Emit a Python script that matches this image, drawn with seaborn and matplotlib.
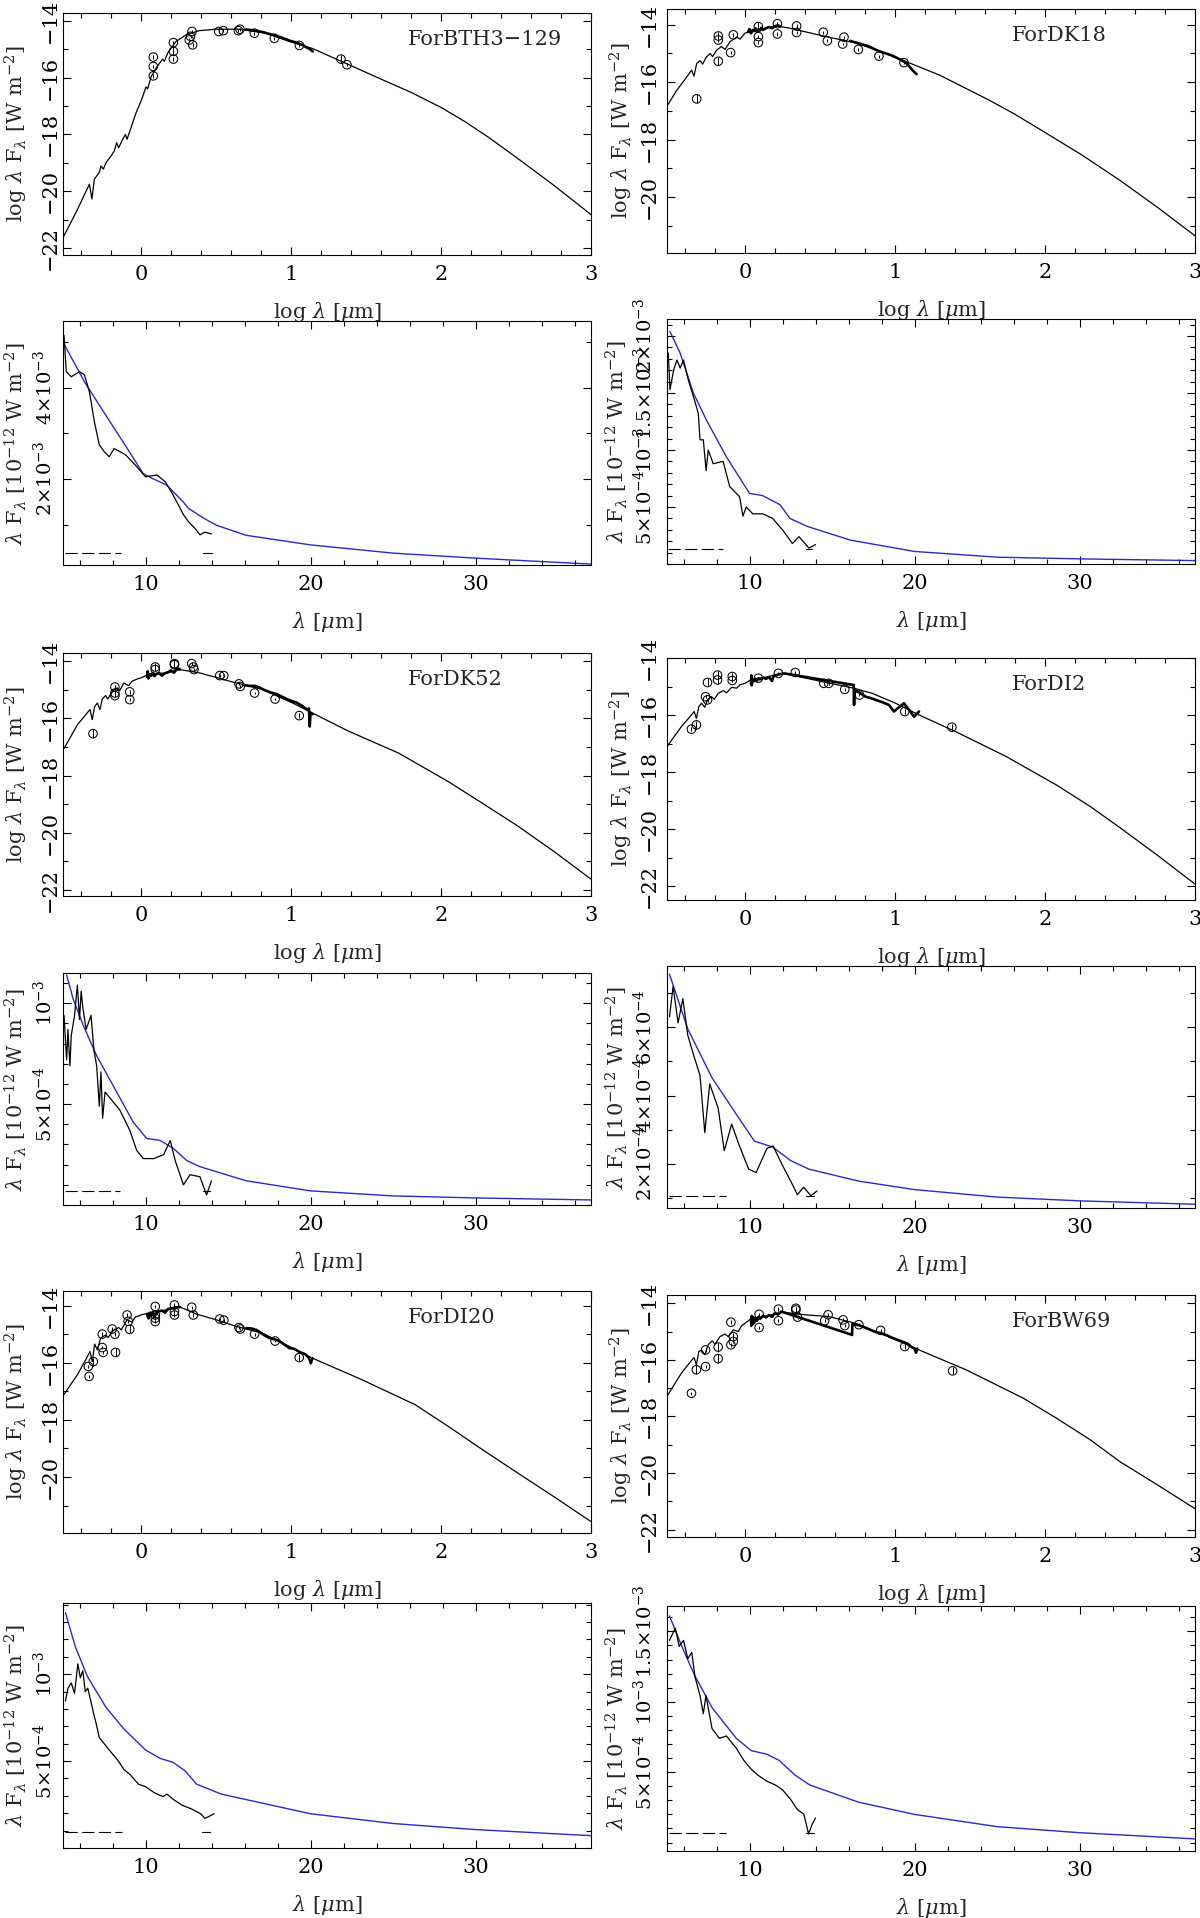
import numpy as np
import seaborn as sns
from matplotlib import pyplot as plt
from matplotlib.ticker import MultipleLocator

# ---------------- SED panels (log lambda [um], log lambda F_lambda [W m^-2]) ----------------
BTH3_MODEL_X = [-0.522, -0.433, -0.344, -0.327, -0.311, -0.278, -0.267, -0.251, -0.233, -0.2, -0.178, -0.162, -0.149,
                -0.122, -0.104, -0.093, -0.067, -0.033, 0.0, 0.016, 0.033, 0.044, 0.067, 0.1, 0.144, 0.156, 0.178,
                0.233, 0.3, 0.389, 0.5, 0.656, 0.833, 0.989, 1.144, 1.344, 1.611, 1.8, 2.0, 2.16, 2.322, 2.5, 2.75,
                3.0]
BTH3_MODEL_Y = [-21.65, -20.74, -19.75, -20.27, -19.57, -19.34, -19.11, -19.22, -18.99, -18.76, -18.58, -18.29, -18.47,
                -18.17, -18.0, -18.17, -17.77, -17.24, -16.83, -16.60, -16.33, -16.40, -15.98, -15.67, -15.35, -15.43,
                -15.14, -14.73, -14.50, -14.35, -14.30, -14.30, -14.44, -14.73, -14.98, -15.45, -16.08, -16.52,
                -17.05, -17.55, -18.12, -18.8, -19.78, -20.82]
BTH3_IRS_X = [0.70, 0.73, 0.76, 0.79, 0.82, 0.85, 0.88, 0.91, 0.94, 0.97, 1.0, 1.03, 1.06, 1.08, 1.1, 1.12, 1.135, 1.145]
BTH3_IRS_Y = [-14.31, -14.33, -14.35, -14.38, -14.41, -14.46, -14.5, -14.55, -14.6, -14.66, -14.72, -14.76, -14.82,
              -14.86, -14.93, -14.98, -15.04, -15.08]
BTH3_PHOT_X = [0.082, 0.082, 0.082, 0.216, 0.216, 0.216, 0.322, 0.33, 0.34, 0.344, 0.518, 0.549, 0.649, 0.66, 0.756,
               0.889, 1.056, 1.333, 1.373]
BTH3_PHOT_Y = [-15.28, -15.61, -15.94, -14.77, -15.08, -15.35, -14.68, -14.55, -14.38, -14.85, -14.38, -14.35, -14.35,
               -14.30, -14.44, -14.62, -14.87, -15.35, -15.55]
BTH3_PHOT_ERR = [0.06, 0.06, 0.06, 0.06, 0.14, 0.06, 0.06, 0.06, 0.06, 0.06, 0.05, 0.05, 0.05, 0.05, 0.05, 0.05, 0.05,
                 0.14, 0.06]

DK18_MODEL_X = [-0.522, -0.456, -0.389, -0.356, -0.34, -0.322, -0.3, -0.282, -0.26, -0.233, -0.216, -0.189, -0.156,
                -0.133, -0.1, -0.056, -0.033, 0.0, 0.078, 0.211, 0.3, 0.522, 0.744, 0.922, 1.078, 1.3, 1.633, 1.8, 2.0,
                2.25, 2.5, 2.75, 3.0]
DK18_MODEL_Y = [-16.85, -16.29, -15.82, -15.58, -15.79, -15.35, -15.25, -15.37, -15.14, -15.0, -15.11, -14.88, -14.76,
                -14.86, -14.59, -14.43, -14.50, -14.29, -14.18, -14.04, -14.12, -14.39, -14.64, -14.97, -15.29, -15.76,
                -16.64, -17.12, -17.75, -18.55, -19.42, -20.36, -21.35]
DK18_NIR_X = [0.02, 0.03, 0.04, 0.05, 0.06, 0.07, 0.08, 0.09, 0.1, 0.11, 0.12, 0.14, 0.16, 0.18, 0.2, 0.22, 0.235]
DK18_NIR_Y = [-14.25, -14.15, -14.3, -14.18, -14.22, -14.12, -14.25, -14.15, -14.2, -14.1, -14.18, -14.12, -14.08,
              -14.12, -14.05, -14.02, -14.06]
DK18_IRS_X = [0.70, 0.74, 0.78, 0.82, 0.86, 0.9, 0.94, 0.97, 1.0, 1.03, 1.06, 1.08, 1.1, 1.12, 1.144]
DK18_IRS_Y = [-14.56, -14.62, -14.68, -14.74, -14.84, -14.93, -15.0, -15.05, -15.12, -15.2, -15.28, -15.35, -15.48,
              -15.6, -15.72]
DK18_PHOT_X = [-0.322, -0.178, -0.178, -0.178, -0.096, -0.078, 0.089, 0.089, 0.089, 0.216, 0.216, 0.344, 0.344, 0.522,
               0.549, 0.651, 0.66, 0.756, 0.893, 1.06]
DK18_PHOT_Y = [-16.58, -14.39, -14.53, -15.27, -14.97, -14.35, -14.06, -14.41, -14.62, -13.96, -14.32, -14.04, -14.27,
               -14.26, -14.56, -14.67, -14.43, -14.86, -15.09, -15.32]
DK18_PHOT_ERR = [0.16, 0.14, 0.06, 0.14, 0.06, 0.06, 0.14, 0.06, 0.06, 0.06, 0.06, 0.06, 0.06, 0.05, 0.05, 0.05, 0.05,
                 0.05, 0.05, 0.05]

DK52_MODEL_X = [-0.512, -0.424, -0.369, -0.34, -0.325, -0.309, -0.291, -0.274, -0.258, -0.236, -0.221, -0.192, -0.159,
                -0.141, -0.115, -0.082, -0.06, -0.026, 0.0, 0.062, 0.172, 0.26, 0.393, 0.636, 0.812, 1.011, 1.143,
                1.386, 1.717, 2.049, 2.25, 2.5, 2.75, 3.0]
DK52_MODEL_Y = [-17.04, -16.22, -15.87, -15.69, -16.04, -15.58, -15.46, -15.69, -15.32, -15.20, -15.32, -15.05, -14.93,
                -15.02, -14.76, -14.85, -14.70, -14.62, -14.58, -14.43, -14.41, -14.29, -14.41, -14.76, -14.99, -15.46,
                -15.81, -16.45, -17.21, -18.21, -18.88, -19.72, -20.64, -21.62]
DK52_NIR_X = [0.04, 0.045, 0.05, 0.06, 0.07, 0.08, 0.09, 0.1, 0.12, 0.14, 0.16, 0.18, 0.2, 0.22, 0.24, 0.26]
DK52_NIR_Y = [-14.55, -14.35, -14.6, -14.45, -14.5, -14.4, -14.52, -14.45, -14.42, -14.5, -14.42, -14.38, -14.32,
              -14.4, -14.25, -14.28]
DK52_IRS_X = [0.68, 0.72, 0.76, 0.79, 0.83, 0.87, 0.9, 0.94, 0.98, 1.01, 1.04, 1.07, 1.09, 1.11, 1.12, 1.125, 1.13,
              1.145]
DK52_IRS_Y = [-14.82, -14.86, -14.86, -14.92, -15.02, -15.1, -15.14, -15.24, -15.34, -15.4, -15.45, -15.55, -15.62,
              -15.7, -15.65, -16.28, -15.8, -15.85]
DK52_PHOT_X = [-0.32, -0.174, -0.174, -0.174, -0.075, -0.075, 0.095, 0.095, 0.223, 0.223, 0.338, 0.349, 0.353, 0.525,
               0.552, 0.653, 0.662, 0.757, 0.894, 1.055]
DK52_PHOT_Y = [-16.53, -14.90, -15.11, -15.20, -15.07, -15.34, -14.20, -14.29, -14.08, -14.12, -14.08, -14.20, -14.29,
               -14.50, -14.50, -14.79, -14.88, -15.11, -15.32, -15.90]
DK52_PHOT_ERR = [0.15, 0.06, 0.14, 0.06, 0.06, 0.06, 0.14, 0.06, 0.14, 0.06, 0.05, 0.05, 0.05, 0.05, 0.05, 0.05, 0.05,
                 0.05, 0.05, 0.1]

DI2_MODEL_X = [-0.52, -0.424, -0.357, -0.339, -0.324, -0.308, -0.29, -0.268, -0.25, -0.223, -0.205, -0.179, -0.145,
               -0.123, -0.089, -0.056, -0.033, 0.0, 0.045, 0.134, 0.223, 0.257, 0.357, 0.513, 0.725, 0.848, 1.004,
               1.16, 1.406, 1.741, 2.076, 2.3, 2.5, 2.75, 3.0]
DI2_MODEL_Y = [-17.10, -16.40, -15.99, -15.87, -16.11, -15.70, -15.58, -15.72, -15.46, -15.35, -15.44, -15.23, -15.14,
               -15.21, -15.02, -15.05, -14.93, -14.88, -14.74, -14.67, -14.55, -14.53, -14.64, -14.82, -15.05, -15.23,
               -15.58, -15.99, -16.58, -17.45, -18.45, -19.2, -19.95, -20.92, -21.93]
DI2_SPEC_X = [0.04, 0.042, 0.045, 0.05, 0.06, 0.07, 0.08, 0.09, 0.1, 0.12, 0.14, 0.16, 0.18, 0.19, 0.21, 0.23, 0.26,
              0.725, 0.727, 0.73, 0.763, 0.804, 0.84, 0.87, 0.92, 0.96, 0.993, 1.02, 1.06, 1.094, 1.127, 1.16]
DI2_SPEC_Y = [-14.9, -14.6, -14.95, -14.75, -14.8, -14.72, -14.78, -14.7, -14.74, -14.68, -14.72, -14.66, -14.8, -14.62,
              -14.6, -14.56, -14.53, -14.94, -15.64, -15.1, -15.21, -15.35, -15.4, -15.46, -15.55, -15.64, -15.87,
              -15.75, -15.58, -15.81, -16.05, -15.87]
DI2_PHOT_X = [-0.357, -0.324, -0.263, -0.25, -0.25, -0.183, -0.183, -0.085, -0.085, 0.089, 0.223, 0.335, 0.525, 0.558,
              0.665, 0.763, 1.065, 1.379]
DI2_PHOT_Y = [-16.49, -16.34, -15.35, -15.46, -14.85, -14.59, -14.76, -14.64, -14.78, -14.70, -14.53, -14.50, -14.88,
              -14.88, -15.09, -15.29, -15.87, -16.42]
DI2_PHOT_ERR = [0.06, 0.14, 0.06, 0.06, 0.14, 0.14, 0.14, 0.14, 0.06, 0.05, 0.05, 0.05, 0.05, 0.05, 0.05, 0.05, 0.1,
                0.1]

DI20_MODEL_X = [-0.512, -0.424, -0.369, -0.34, -0.325, -0.309, -0.291, -0.269, -0.236, -0.221, -0.181, -0.148, -0.132,
                -0.093, -0.06, -0.038, 0.0, 0.084, 0.172, 0.26, 0.371, 0.503, 0.636, 0.812, 0.989, 1.143, 1.475, 1.828,
                2.049, 2.25, 2.5, 2.75, 3.0]
DI20_MODEL_Y = [-17.10, -16.42, -15.90, -15.61, -15.96, -15.35, -15.55, -15.14, -15.03, -15.12, -14.85, -14.77, -14.85,
                -14.50, -14.58, -14.40, -14.33, -14.21, -14.15, -14.05, -14.30, -14.50, -14.73, -14.97, -15.43, -15.84,
                -16.60, -17.47, -18.23, -18.95, -19.82, -20.68, -21.56]
DI20_NIR_X = [0.04, 0.05, 0.06, 0.07, 0.08, 0.09, 0.1, 0.12, 0.14, 0.16, 0.18, 0.2, 0.22, 0.24, 0.26]
DI20_NIR_Y = [-14.3, -14.45, -14.25, -14.35, -14.22, -14.4, -14.28, -14.2, -14.18, -14.25, -14.12, -14.1, -14.08,
              -14.06, -14.05]
DI20_IRS_X = [0.702, 0.735, 0.768, 0.79, 0.812, 0.835, 0.857, 0.89, 0.923, 0.955, 0.989, 1.01, 1.033, 1.055, 1.077,
              1.095, 1.11, 1.122, 1.132, 1.143]
DI20_IRS_Y = [-14.79, -14.8, -14.85, -14.92, -15.0, -15.08, -15.14, -15.18, -15.24, -15.36, -15.49, -15.5, -15.55,
              -15.62, -15.67, -15.7, -15.78, -15.85, -16.02, -15.84]
DI20_PHOT_X = [-0.351, -0.346, -0.318, -0.258, -0.258, -0.252, -0.192, -0.174, -0.17, -0.093, -0.075, -0.085, 0.095,
               0.095, 0.095, 0.095, 0.223, 0.223, 0.223, 0.338, 0.349, 0.525, 0.552, 0.653, 0.662, 0.757, 0.894, 1.055]
DI20_PHOT_Y = [-16.13, -16.48, -15.96, -15.0, -15.47, -15.64, -14.82, -15.0, -15.64, -14.33, -14.83, -14.55, -14.03,
               -14.33, -14.44, -14.56, -13.98, -14.21, -14.33, -14.06, -14.33, -14.47, -14.51, -14.77, -14.82, -15.0,
               -15.24, -15.82]
DI20_PHOT_ERR = [0.06, 0.06, 0.14, 0.06, 0.06, 0.06, 0.06, 0.06, 0.14, 0.06, 0.14, 0.06, 0.06, 0.06, 0.06, 0.06, 0.06,
                 0.06, 0.06, 0.06, 0.06, 0.05, 0.05, 0.05, 0.05, 0.05, 0.05, 0.12]

BW69_MODEL_X = [-0.52, -0.424, -0.353, -0.339, -0.324, -0.308, -0.29, -0.268, -0.246, -0.219, -0.2, -0.167, -0.134,
                -0.112, -0.078, -0.045, -0.022, 0.0, 0.045, 0.134, 0.223, 0.257, 0.402, 0.558, 0.737, 0.871, 1.004,
                1.16, 1.473, 1.853, 2.076, 2.3, 2.5, 2.75, 3.0]
BW69_MODEL_Y = [-17.29, -16.47, -16.0, -15.92, -16.18, -15.71, -15.65, -15.82, -15.47, -15.33, -15.45, -15.18, -15.09,
                -15.18, -14.94, -15.0, -14.79, -14.71, -14.53, -14.47, -14.35, -14.32, -14.41, -14.47, -14.71, -15.0,
                -15.29, -15.65, -16.35, -17.35, -18.06, -18.82, -19.6, -20.42, -21.26]
BW69_SPEC_X = [0.04, 0.042, 0.045, 0.05, 0.055, 0.06, 0.07, 0.08, 0.09, 0.1, 0.12, 0.14, 0.16, 0.18, 0.2, 0.22, 0.24,
               0.257, 0.714, 0.716, 0.76, 0.8, 0.84, 0.87, 0.9, 0.94, 0.98, 1.02, 1.06, 1.09, 1.11, 1.13, 1.14, 1.148]
BW69_SPEC_Y = [-14.55, -14.8, -14.45, -14.75, -14.5, -14.7, -14.52, -14.62, -14.48, -14.55, -14.45, -14.5, -14.42,
               -14.48, -14.35, -14.4, -14.3, -14.32, -15.12, -14.74, -14.78, -14.86, -14.95, -15.02, -15.05, -15.12,
               -15.22, -15.3, -15.38, -15.45, -15.55, -15.6, -15.75, -15.6]
BW69_PHOT_X = [-0.357, -0.324, -0.263, -0.263, -0.179, -0.179, -0.094, -0.094, -0.078, -0.078, 0.094, 0.094, 0.223,
               0.223, 0.339, 0.339, 0.35, 0.531, 0.554, 0.654, 0.665, 0.759, 0.904, 1.065, 1.384]
BW69_PHOT_Y = [-17.18, -16.35, -15.65, -16.24, -15.55, -15.96, -14.67, -15.47, -15.18, -15.35, -14.39, -14.86, -14.21,
               -14.62, -14.18, -14.24, -14.49, -14.62, -14.41, -14.59, -14.79, -14.76, -14.96, -15.53, -16.39]
BW69_PHOT_ERR = [0.06, 0.16, 0.06, 0.06, 0.16, 0.16, 0.06, 0.06, 0.14, 0.06, 0.06, 0.06, 0.06, 0.06, 0.06, 0.06, 0.06,
                 0.05, 0.05, 0.05, 0.05, 0.05, 0.05, 0.1, 0.12]

# ---------------- mid-IR panels (lambda [um], lambda F_lambda) ----------------
BTH3_LAM = [5.06, 5.2, 5.5, 6.0, 6.3, 6.6, 6.9, 7.2, 7.5, 7.8, 8.1, 8.8, 9.4, 10.0, 10.7, 11.2, 11.6, 12.0, 12.3, 12.6,
            13.0, 13.3, 13.6, 14.0]
BTH3_FLUX = [5.15e-3, 4.35e-3, 4.24e-3, 4.35e-3, 4.28e-3, 3.91e-3, 3.26e-3, 2.75e-3, 2.6e-3, 2.49e-3, 2.67e-3, 2.53e-3,
             2.3e-3, 2.05e-3, 2.09e-3, 1.94e-3, 1.7e-3, 1.43e-3, 1.22e-3, 1.07e-3, 0.92e-3, 0.78e-3, 0.84e-3, 0.80e-3]
BTH3_FIT_LAM = [5.1, 6.3, 7.5, 8.7, 9.86, 10.5, 11.28, 12.29, 12.6, 13.5, 14.3, 16.1, 20, 25, 30, 37]
BTH3_FIT_FLUX = [4.93e-3, 4.13e-3, 3.45e-3, 2.78e-3, 2.12e-3, 2.0e-3, 1.87e-3, 1.50e-3, 1.36e-3, 1.15e-3, 0.99e-3,
                 0.77e-3, 0.56e-3, 0.38e-3, 0.27e-3, 0.14e-3]
BTH3_DASH = [5.1, 8.5, 13.5, 14.0, 0.38e-3]

DK18_LAM = [5.08, 5.18, 5.4, 5.6, 5.8, 6.0, 6.3, 6.6, 6.9, 7.0, 7.2, 7.37, 7.5, 7.8, 8.4, 8.8, 9.4, 9.6, 9.8, 10.2,
            10.8, 11.4, 12.0, 12.6, 13.0, 13.6, 14.0]
DK18_FLUX = [1.85e-3, 1.53e-3, 1.70e-3, 1.79e-3, 1.72e-3, 1.79e-3, 1.61e-3, 1.47e-3, 1.32e-3, 1.09e-3, 1.09e-3,
             0.82e-3, 1.0e-3, 0.88e-3, 0.90e-3, 0.68e-3, 0.59e-3, 0.42e-3, 0.50e-3, 0.44e-3, 0.44e-3, 0.40e-3,
             0.30e-3, 0.18e-3, 0.24e-3, 0.14e-3, 0.17e-3]
DK18_FIT_LAM = [5.18, 5.8, 6.6, 7.4, 8.6, 10.0, 10.8, 11.85, 12.45, 13.5, 16.1, 20, 25, 30, 37]
DK18_FIT_FLUX = [2.04e-3, 1.85e-3, 1.50e-3, 1.26e-3, 0.94e-3, 0.62e-3, 0.60e-3, 0.52e-3, 0.40e-3, 0.33e-3, 0.21e-3,
                 0.11e-3, 0.06e-3, 0.045e-3, 0.03e-3]
DK18_DASH = [5.06, 8.4, 13.4, 13.8, 0.13e-3]

DK52_LAM = [5.06, 5.22, 5.3, 5.42, 5.5, 5.7, 5.87, 6.0, 6.1, 6.2, 6.4, 6.7, 6.87, 7.04, 7.2, 7.3, 7.4, 7.55, 8.05,
            8.45, 9.05, 9.47, 9.87, 10.5, 11.1, 11.5, 11.8, 12.3, 12.7, 13.3, 13.7, 14.0]
DK52_FLUX = [0.94e-3, 0.72e-3, 0.87e-3, 0.69e-3, 0.84e-3, 0.94e-3, 1.09e-3, 0.92e-3, 1.06e-3, 0.98e-3, 0.87e-3,
             0.94e-3, 0.77e-3, 0.69e-3, 0.49e-3, 0.66e-3, 0.43e-3, 0.56e-3, 0.51e-3, 0.47e-3, 0.37e-3, 0.27e-3,
             0.23e-3, 0.23e-3, 0.25e-3, 0.32e-3, 0.22e-3, 0.10e-3, 0.15e-3, 0.14e-3, 0.05e-3, 0.12e-3]
DK52_FIT_LAM = [5.22, 5.62, 6.23, 7.04, 8.05, 9.26, 10.07, 10.88, 11.7, 12.5, 13.3, 16.1, 20, 25, 30, 37]
DK52_FIT_FLUX = [1.14e-3, 1.02e-3, 0.89e-3, 0.74e-3, 0.59e-3, 0.41e-3, 0.33e-3, 0.32e-3, 0.28e-3, 0.22e-3, 0.19e-3,
                 0.12e-3, 0.07e-3, 0.045e-3, 0.035e-3, 0.025e-3]
DK52_DASH = [5.1, 8.45, 13.5, 13.9, 0.07e-3]

DI2_LAM = [5.15, 5.37, 5.67, 5.96, 6.26, 6.63, 7.0, 7.29, 7.59, 8.1, 8.47, 8.92, 9.36, 9.95, 10.4, 11.06, 11.43, 12.0,
           12.54, 12.9, 13.28, 13.72, 14.09]
DI2_FLUX = [6.31e-4, 7.2e-4, 6.13e-4, 6.84e-4, 5.77e-4, 5.16e-4, 4.59e-4, 2.91e-4, 4.34e-4, 3.63e-4, 2.38e-4, 3.16e-4,
            2.56e-4, 1.84e-4, 1.74e-4, 2.45e-4, 2.52e-4, 1.95e-4, 1.45e-4, 1.09e-4, 1.31e-4, 1.06e-4, 1.2e-4]
DI2_FIT_LAM = [5.15, 6.26, 7.73, 9.2, 10.3, 11.4, 12.5, 13.6, 16.6, 20, 25, 30, 37]
DI2_FIT_FLUX = [7.56e-4, 5.95e-4, 4.52e-4, 3.45e-4, 2.66e-4, 2.49e-4, 2.09e-4, 1.84e-4, 1.49e-4, 1.24e-4, 1.02e-4,
                0.91e-4, 0.81e-4]
DI2_DASH = [5.15, 8.6, 13.4, 13.9, 1.06e-4]

DI20_LAM = [5.15, 5.3, 5.5, 5.7, 5.9, 6.05, 6.2, 6.35, 6.5, 6.7, 6.85, 7.0, 7.2, 7.5, 7.8, 8.3, 8.7, 9.06, 9.58, 10.0,
            10.55, 11.06, 11.3, 11.65, 12.2, 12.76, 13.35, 13.6, 13.87, 14.16]
DI20_FLUX = [8.46e-4, 9.2e-4, 9.5e-4, 8.9e-4, 10.6e-4, 9.8e-4, 10.2e-4, 9.0e-4, 9.2e-4, 8.4e-4, 7.76e-4, 7.2e-4,
             6.35e-4, 6.0e-4, 5.64e-4, 5.08e-4, 4.51e-4, 4.23e-4, 3.67e-4, 3.53e-4, 3.17e-4, 2.96e-4, 3.1e-4, 2.82e-4,
             2.47e-4, 2.26e-4, 1.97e-4, 1.7e-4, 1.83e-4, 1.97e-4]
DI20_FIT_LAM = [5.15, 5.74, 6.48, 7.6, 8.7, 10.0, 10.9, 11.65, 12.4, 13.1, 14.6, 20, 25, 30, 37]
DI20_FIT_FLUX = [13.54e-4, 11.6e-4, 9.87e-4, 8.1e-4, 6.84e-4, 5.64e-4, 5.15e-4, 4.94e-4, 4.44e-4, 3.67e-4, 3.1e-4,
                 1.97e-4, 1.41e-4, 1.06e-4, 0.71e-4]
DI20_DASH = [5.15, 8.55, 13.4, 13.9, 0.92e-4]

BW69_LAM = [5.15, 5.5, 5.74, 6.0, 6.26, 6.5, 6.7, 7.0, 7.2, 7.36, 7.73, 8.17, 8.6, 9.2, 9.66, 10.1, 10.5, 11.06, 11.57,
            12.0, 12.5, 12.9, 13.3, 13.58, 13.8, 14.0]
BW69_FLUX = [14.36e-4, 15.23e-4, 13.93e-4, 14.36e-4, 13.06e-4, 13.5e-4, 11.75e-4, 10.45e-4, 9.14e-4, 10.45e-4, 8.1e-4,
             7.4e-4, 7.57e-4, 6.7e-4, 5.83e-4, 5.22e-4, 4.79e-4, 4.35e-4, 4.09e-4, 3.75e-4, 3.05e-4, 2.35e-4, 2.0e-4,
             0.61e-4, 1.31e-4, 1.74e-4]
BW69_FIT_LAM = [5.15, 5.9, 6.65, 7.73, 9.2, 10.1, 11.06, 11.8, 12.76, 13.65, 16.6, 20, 25, 30, 37]
BW69_FIT_FLUX = [16.1e-4, 13.93e-4, 11.93e-4, 9.58e-4, 7.4e-4, 6.53e-4, 6.27e-4, 5.83e-4, 4.79e-4, 4.09e-4, 2.87e-4,
                 2.0e-4, 1.13e-4, 0.70e-4, 0.26e-4]
BW69_DASH = [5.15, 8.6, 13.4, 13.9, 0.7e-4]

NAMES = ["ForBTH3\u2212129", "ForDK18", "ForDK52", "ForDI2", "ForDI20", "ForBW69"]
SED_YTICKS = [-22, -20, -18, -16, -14]
IR_YTICKS = [[2e-3, 4e-3], [5e-4, 1e-3, 1.5e-3, 2e-3], [5e-4, 1e-3], [2e-4, 4e-4, 6e-4], [5e-4, 1e-3],
             [5e-4, 1e-3, 1.5e-3]]
IR_YTICKLABELS = [[r"2$\times$10$^{-3}$", r"4$\times$10$^{-3}$"],
                  [r"5$\times$10$^{-4}$", r"10$^{-3}$", r"1.5$\times$10$^{-3}$", r"2$\times$10$^{-3}$"],
                  [r"5$\times$10$^{-4}$", r"10$^{-3}$"],
                  [r"2$\times$10$^{-4}$", r"4$\times$10$^{-4}$", r"6$\times$10$^{-4}$"],
                  [r"5$\times$10$^{-4}$", r"10$^{-3}$"],
                  [r"5$\times$10$^{-4}$", r"10$^{-3}$", r"1.5$\times$10$^{-3}$"]]
IR_YMINOR = [1e-3, 1e-4, 1e-4, 1e-4, 1e-4, 1e-4]

sns.set_theme(style="ticks")
plt.rcParams["font.family"] = ["DejaVu Serif"]
plt.rcParams["mathtext.fontset"] = "dejavuserif"
FS = 15
plt.rcParams["font.size"] = FS

W, H = 1200, 1918
BLUE = "#2a2ac6"
fig = plt.figure(figsize=(W / 100, H / 100), dpi=100)


def frame(x0, y0, x1, y1):
	return fig.add_axes([x0 / W, 1 - y1 / H, (x1 - x0) / W, (y1 - y0) / H])


def pg_style(ax, ypad, h_px, ylab_x, ysize):
	ax.tick_params(which="both", direction="in", top=True, right=True, color="black", width=0.8,
				   labelsize=FS, labelcolor="black")
	ax.tick_params(which="major", length=6)
	ax.tick_params(which="minor", length=3.5)
	ax.tick_params(axis="x", pad=7)
	ax.tick_params(axis="y", pad=ypad, labelsize=ysize)
	for s in ax.spines.values():
		s.set_linewidth(0.8)
		s.set_color("black")
	ax.xaxis.label.set_size(FS)
	ax.yaxis.label.set_size(FS)
	ax.xaxis.set_label_coords(0.5, -57 / h_px)
	ax.xaxis.label.set_verticalalignment("center")
	ax.yaxis.set_label_coords(ylab_x, 0.5)
	ax.yaxis.label.set_verticalalignment("center")


def sed_panel(rect, ylim, name, mx, my, specs, px, py, perr, left):
	ax = frame(*rect)
	sns.lineplot(x=mx, y=my, ax=ax, sort=False, estimator=None, color="black", lw=0.9)
	for sx, sy in specs:
		sns.lineplot(x=sx, y=sy, ax=ax, sort=False, estimator=None, color="black", lw=1.9)
	ax.errorbar(px, py, yerr=perr, fmt="none", ecolor="black", elinewidth=0.7, capsize=0)
	sns.scatterplot(x=px, y=py, ax=ax, marker="o", s=38, facecolor="none", edgecolor="black", linewidth=0.75,
					zorder=3)
	ax.set_xlim(-0.52, 3.0)
	ax.set_ylim(*ylim)
	ax.xaxis.set_major_locator(MultipleLocator(1))
	ax.xaxis.set_minor_locator(MultipleLocator(0.2))
	yt = [t for t in SED_YTICKS if ylim[0] <= t <= ylim[1]]
	ax.set_yticks(yt, [f"\u2212{abs(t)}" for t in yt], rotation=90, va="center")
	ax.yaxis.set_minor_locator(MultipleLocator(1))
	ax.set_xlabel(r"log $\lambda$ [$\mu$m]")
	ax.set_ylabel(r"log $\lambda$ F$_\lambda$ [W m$^{-2}$]")
	ax.text(0.654, 0.89, name, transform=ax.transAxes, ha="left", va="center", fontsize=FS)
	pg_style(ax, 2 if left else 6, rect[3] - rect[1], -0.089 if left else -0.087, FS)
	return ax


def ir_panel(rect, ylim, lam, flux, fit_lam, fit_flux, dash, k, left):
	ax = frame(*rect)
	sns.lineplot(x=fit_lam, y=fit_flux, ax=ax, sort=False, estimator=None, color=BLUE, lw=1.0)
	sns.lineplot(x=lam, y=flux, ax=ax, sort=False, estimator=None, color="black", lw=0.9)
	sns.lineplot(x=dash[0:2], y=[dash[4]] * 2, ax=ax, sort=False, estimator=None, color="black", lw=0.8,
				 linestyle=(0, (11, 4)))
	sns.lineplot(x=dash[2:4], y=[dash[4]] * 2, ax=ax, sort=False, estimator=None, color="black", lw=0.8)
	ax.set_xlim(5, 37)
	ax.set_ylim(*ylim)
	ax.xaxis.set_major_locator(MultipleLocator(10))
	ax.xaxis.set_minor_locator(MultipleLocator(2))
	ax.set_yticks(IR_YTICKS[k], IR_YTICKLABELS[k], rotation=90, va="center")
	ax.yaxis.set_minor_locator(MultipleLocator(IR_YMINOR[k]))
	ax.set_xlabel(r"$\lambda$ [$\mu$m]")
	ax.set_ylabel(r"$\lambda$ F$_\lambda$ [10$^{-12}$ W m$^{-2}$]")
	pg_style(ax, 5 if left else 8, rect[3] - rect[1], -0.089 if left else -0.095, 14)
	return ax


LX, RX = (63, 591), (667, 1195)

sed_panel((LX[0], 13, LX[1], 255), (-22.24, -13.73), NAMES[0], BTH3_MODEL_X, BTH3_MODEL_Y,
		  [(BTH3_IRS_X, BTH3_IRS_Y)], BTH3_PHOT_X, BTH3_PHOT_Y, BTH3_PHOT_ERR, True)
sed_panel((RX[0], 9, RX[1], 253), (-21.95, -13.45), NAMES[1], DK18_MODEL_X, DK18_MODEL_Y,
		  [(DK18_NIR_X, DK18_NIR_Y), (DK18_IRS_X, DK18_IRS_Y)], DK18_PHOT_X, DK18_PHOT_Y, DK18_PHOT_ERR, False)
ir_panel((LX[0], 321, LX[1], 565), (0.12e-3, 5.46e-3), BTH3_LAM, BTH3_FLUX, BTH3_FIT_LAM, BTH3_FIT_FLUX,
		 BTH3_DASH, 0, True)
ir_panel((RX[0], 319, RX[1], 564), (0.0, 2.15e-3), DK18_LAM, DK18_FLUX, DK18_FIT_LAM, DK18_FIT_FLUX,
		 DK18_DASH, 1, False)

sed_panel((LX[0], 653, LX[1], 896), (-22.21, -13.71), NAMES[2], DK52_MODEL_X, DK52_MODEL_Y,
		  [(DK52_NIR_X, DK52_NIR_Y), (DK52_IRS_X, DK52_IRS_Y)], DK52_PHOT_X, DK52_PHOT_Y, DK52_PHOT_ERR, True)
sed_panel((RX[0], 658, RX[1], 900), (-22.49, -13.99), NAMES[3], DI2_MODEL_X, DI2_MODEL_Y,
		  [(DI2_SPEC_X, DI2_SPEC_Y)], DI2_PHOT_X, DI2_PHOT_Y, DI2_PHOT_ERR, False)
ir_panel((LX[0], 973, LX[1], 1205), (0.0, 1.15e-3), DK52_LAM, DK52_FLUX, DK52_FIT_LAM, DK52_FIT_FLUX,
		 DK52_DASH, 2, True)
ir_panel((RX[0], 966, RX[1], 1208), (0.7e-4, 7.8e-4), DI2_LAM, DI2_FLUX, DI2_FIT_LAM, DI2_FIT_FLUX,
		 DI2_DASH, 3, False)

sed_panel((LX[0], 1291, LX[1], 1533), (-21.96, -13.49), NAMES[4], DI20_MODEL_X, DI20_MODEL_Y,
		  [(DI20_NIR_X, DI20_NIR_Y), (DI20_IRS_X, DI20_IRS_Y)], DI20_PHOT_X, DI20_PHOT_Y, DI20_PHOT_ERR, True)
sed_panel((RX[0], 1295, RX[1], 1537), (-22.26, -13.71), NAMES[5], BW69_MODEL_X, BW69_MODEL_Y,
		  [(BW69_SPEC_X, BW69_SPEC_Y)], BW69_PHOT_X, BW69_PHOT_Y, BW69_PHOT_ERR, False)
ir_panel((LX[0], 1603, LX[1], 1848), (0.0, 1.41e-3), DI20_LAM, DI20_FLUX, DI20_FIT_LAM, DI20_FIT_FLUX,
		 DI20_DASH, 4, True)
ir_panel((RX[0], 1606, RX[1], 1851), (-0.6e-4, 1.68e-3), BW69_LAM, BW69_FLUX, BW69_FIT_LAM, BW69_FIT_FLUX,
		 BW69_DASH, 5, False)

fig.savefig("out.png", dpi=100, facecolor="white")
